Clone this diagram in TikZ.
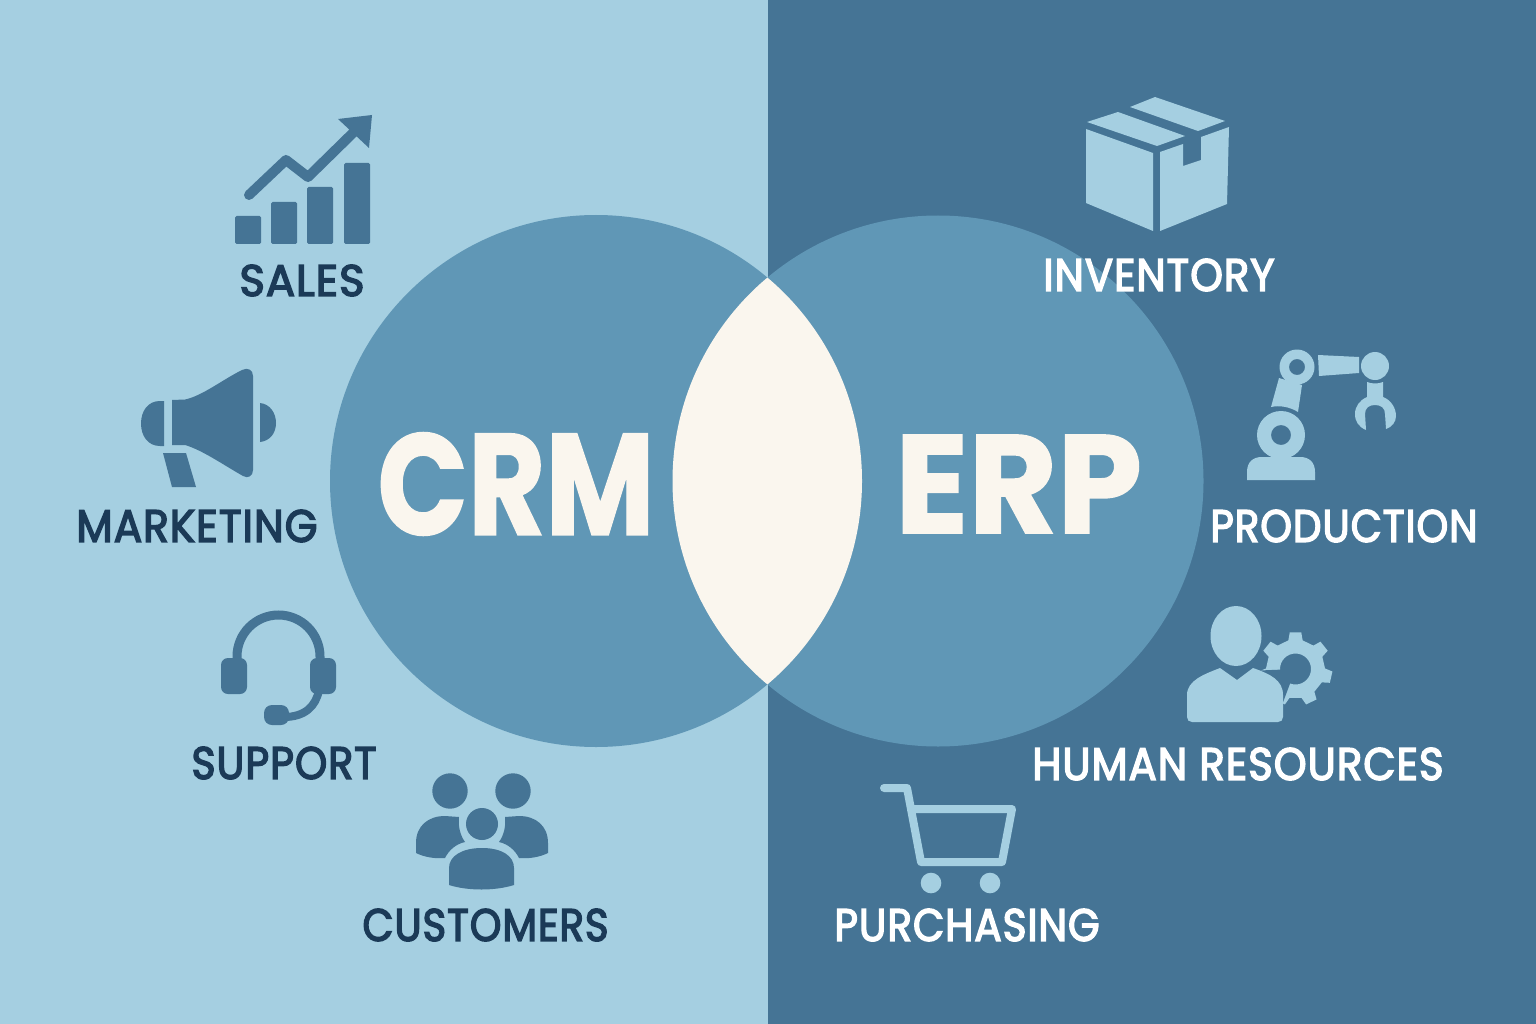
\documentclass[tikz,border=0pt]{standalone}
\usepackage{graphicx}
\usepackage{fontspec}
\setmainfont{Poppins}
\newfontfamily\lblf{Poppins}[FakeBold=3.5,LetterSpace=2.5]
\newfontfamily\bigf{Poppins}[BoldFeatures={FakeBold=1.2}]
\definecolor{lightbg}{HTML}{A5CFE1}
\definecolor{darkbg}{HTML}{457495}
\definecolor{circ}{HTML}{6097B6}
\definecolor{cream}{HTML}{FAF6EE}
\definecolor{ink}{HTML}{1B3A57}
\tikzset{
  lbl/.style={inner sep=0pt,outer sep=0pt,anchor=center,font=\lblf},
  darklbl/.style={lbl,text=ink},
  whitelbl/.style={lbl,text=white},
  biglbl/.style={inner sep=0pt,outer sep=0pt,anchor=center,font=\bigf\bfseries,text=cream},
  iconL/.style={fill=darkbg,draw=none},
  iconR/.style={fill=lightbg,draw=none},
}
\begin{document}
\begin{tikzpicture}[x=1pt,y=-1pt]
\useasboundingbox (0,0) rectangle (1536,1024);
\fill[lightbg] (0,0) rectangle (767.5,1024);
\fill[darkbg] (767.5,0) rectangle (1536,1024);
% circles
\fill[circ] (596,481) circle (266pt);
\fill[circ] (938,481) circle (265.5pt);
\begin{scope}
  \clip (596,481) circle (266pt);
  \fill[cream] (938,481) circle (265.5pt);
\end{scope}
\node[biglbl] (crm) at (516,484) {\resizebox{277pt}{102pt}{CRM}};
\node[biglbl] (erp) at (1018.5,484) {\resizebox{247pt}{98pt}{ERP}};

% SALES icon
\foreach \xa/\ya in {235/216,271/202,307/187,344/163}{
  \fill[iconL,rounded corners=1.5pt] (\xa,\ya) rectangle ({\xa+26},244);
}
\draw[darkbg,line width=10pt,line cap=round,line join=round] (249,195) -- (286,160) -- (308,177) -- (357,129);
\fill[iconL] (338,119) -- (372,115) -- (369,148) -- cycle;
\node[darklbl] (sales) at (302,280.5) {\resizebox{125pt}{31pt}{SALES}};

% MARKETING icon
\fill[iconL] (164,401) -- (160,401) .. controls (148,401) and (141,411) .. (141,423.5) .. controls (141,436) and (148,446) .. (160,446) -- (164,446) -- cycle;
\fill[iconL] (172,400) -- (185,399.5) .. controls (202,396) and (222,380) .. (242,370) .. controls (248,367) and (253,370) .. (253,376) -- (253,470) .. controls (253,476) and (248,479) .. (243,476) .. controls (222,464) and (202,450) .. (185,445) -- (172,445) -- cycle;
\fill[iconL] (260,403) .. controls (270,404) and (276,413) .. (276,423) .. controls (276,433) and (270,441) .. (260,442) -- cycle;
\fill[iconL] (163,453) -- (186,453) -- (196,487) -- (172,487) -- cycle;
\node[darklbl] (marketing) at (197,526) {\resizebox{241pt}{32pt}{MARKETING}};

% SUPPORT icon
\draw[darkbg,line width=9pt] (237,665) -- (237,656.5) arc[start angle=180,end angle=0,radius=41.5pt] -- (320,665);
\fill[iconL,rounded corners=7pt] (221,658) rectangle (247,694);
\fill[iconL,rounded corners=7pt] (310,658) rectangle (336,694);
\draw[darkbg,line width=8pt] (319,690) .. controls (316,706) and (305,717) .. (284,717);
\fill[iconL,rounded corners=8pt] (264,705) rectangle (289,725);
\node[darklbl] (support) at (284,763) {\resizebox{185pt}{32pt}{SUPPORT}};

% CUSTOMERS icon
\fill[iconL] (450,791) circle (17.7pt);
\fill[iconL] (513,791) circle (17.7pt);
\fill[iconL] (482,824) circle (16pt);
\fill[iconL] (445,858) .. controls (435,859) and (424,857) .. (416,853) -- (416,843) .. controls (416,826) and (428,816) .. (445,816) -- (459,817) .. controls (458,826) and (460,835) .. (465,842) .. controls (456,844) and (449,850) .. (445,858) -- cycle;
\fill[iconL] (519,858) .. controls (529,859) and (540,857) .. (548,853) -- (548,843) .. controls (548,826) and (536,816) .. (519,816) -- (505,817) .. controls (506,826) and (504,835) .. (499,842) .. controls (508,844) and (515,850) .. (519,858) -- cycle;
\fill[iconL] (449,885) -- (449,868) .. controls (449,856) and (462,848) .. (482,848) .. controls (502,848) and (514,856) .. (514,868) -- (514,885) .. controls (495,891) and (468,891) .. (449,885) -- cycle;
\node[darklbl] (customers) at (485.5,925) {\resizebox{246pt}{32pt}{CUSTOMERS}};

% INVENTORY icon
\fill[iconR] (1086,129) -- (1153,153) -- (1153,231) -- (1086,203) -- cycle;
\fill[iconR] (1160,152) -- (1183,144) -- (1183,166) -- (1201,160) -- (1201,137) -- (1229,127) -- (1227,204) -- (1160,231) -- cycle;
\fill[iconR] (1087,122) -- (1118,112) -- (1185,136) -- (1157,146) -- cycle;
\fill[iconR] (1130,107) -- (1155,97) -- (1225,121) -- (1198,131) -- cycle;
\node[whitelbl] (inventory) at (1159,275) {\resizebox{231pt}{32pt}{INVENTORY}};

% PRODUCTION icon
\fill[iconR] (1247,480) -- (1247,472) .. controls (1247,462) and (1253,457) .. (1262,457) -- (1300,457) .. controls (1309,457) and (1315,462) .. (1315,472) -- (1315,480) -- cycle;
\fill[iconR,even odd rule] (1281,435) circle (24pt) (1281,435) circle (10pt);
\fill[iconR] (1271,407) -- (1279,378) -- (1302,385) -- (1298,412) .. controls (1290,407) and (1280,405) .. (1271,407) -- cycle;
\fill[iconR,even odd rule] (1297,367) circle (17.5pt) (1297,367) circle (8pt);
\fill[iconR] (1318,355) -- (1359,357) -- (1359,373) -- (1319,376) -- cycle;
\fill[iconR] (1375,366) circle (14pt);
\fill[iconR] (1367,382) .. controls (1372,384) and (1378,384) .. (1383,382) -- (1383,397) .. controls (1391,400) and (1396,408) .. (1396,416) .. controls (1396,422) and (1392,427) .. (1386,429) -- (1385,414) .. controls (1385,408) and (1381,405) .. (1375,405) .. controls (1369,405) and (1365,408) .. (1365,414) -- (1366,430) .. controls (1359,427) and (1355,422) .. (1355,414) .. controls (1355,406) and (1360,400) .. (1367,397) -- cycle;
\node[whitelbl] (production) at (1344,526) {\resizebox{267pt}{32pt}{PRODUCTION}};

% HUMAN RESOURCES icon
\begin{scope}[shift={(1295.5,669)}]
\fill[iconR,even odd rule] (-104:29.5) \foreach \a in {-90,-38.6,12.9,64.3,115.7,167.1,218.6}{ -- ({\a-14}:29.5) -- ({\a-9}:37) -- ({\a+9}:37) -- ({\a+14}:29.5) } -- cycle (0,0) circle (15.5pt);
\fill[darkbg] (0,0) -- (-48,2) -- (-48,30) -- (-18,48) -- cycle;
\end{scope}
\fill[iconR] (1236,636) ellipse [x radius=25.5pt,y radius=30pt];
\fill[iconR] (1192,722) .. controls (1189,722) and (1187,720) .. (1187,717) -- (1187,695) .. controls (1187,680) and (1205,674) .. (1220,668) -- (1237,680) -- (1253,668) .. controls (1270,674) and (1283,680) .. (1283,695) -- (1283,717) .. controls (1283,720) and (1281,722) .. (1278,722) -- cycle;
\node[whitelbl] (hr) at (1238,764) {\resizebox{411pt}{32pt}{HUMAN RESOURCES}};

% PURCHASING icon
\draw[lightbg,line width=8pt,line cap=round,line join=round] (884,788) -- (907,788) -- (921,862) -- (1002,862) -- (1012,809) -- (912,809);
\fill[iconR] (931,883) circle (10.3pt);
\fill[iconR] (990,883) circle (10.3pt);
\node[whitelbl] (purchasing) at (967,925) {\resizebox{265pt}{32pt}{PURCHASING}};
\end{tikzpicture}
\end{document}
